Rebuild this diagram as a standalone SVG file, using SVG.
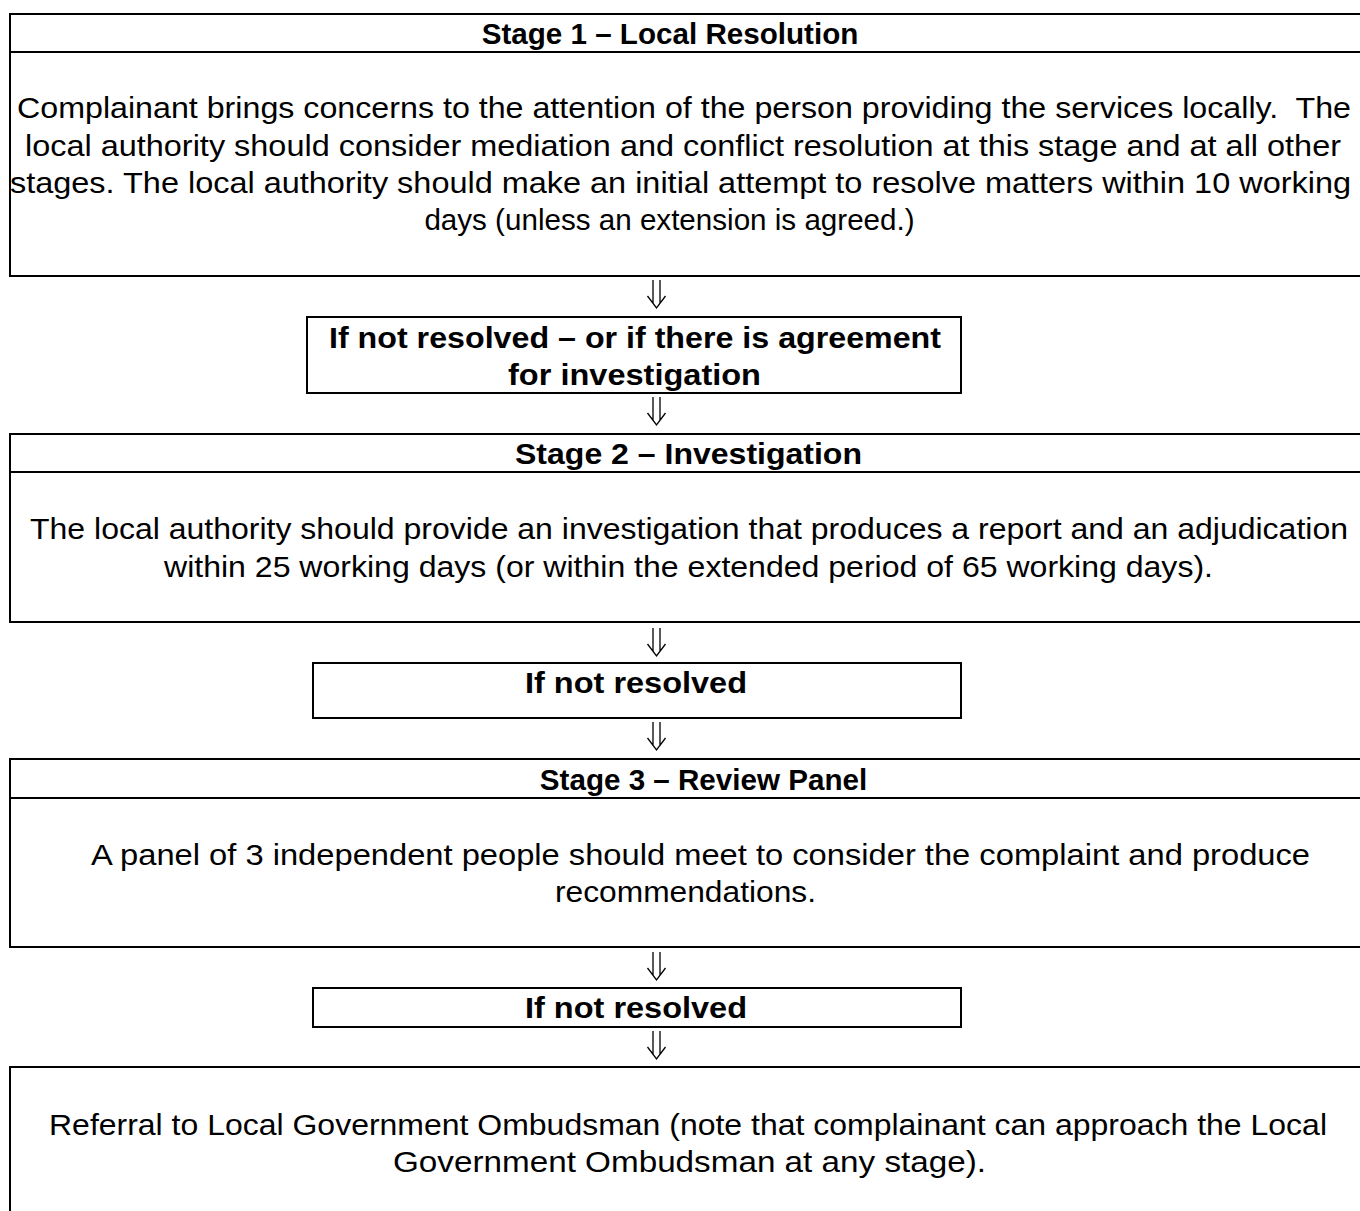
<svg xmlns="http://www.w3.org/2000/svg" width="1360" height="1211" viewBox="0 0 1360 1211">
<style>
.box{fill:#fff;stroke:#000;stroke-width:2}
.div{stroke:#000;stroke-width:2}
.t{font-family:"Liberation Sans",Arial,sans-serif;font-size:29.6px;fill:#000}
.m{text-anchor:middle}
.b{font-weight:bold}
.arr{fill:none;stroke:#000;stroke-width:1.3}
</style>
<defs>
<path id="dblarrow" class="arr" d="M-3.5,0 V23 M3.5,0 V23 M-9,16 L0,28 L9,16"/>
</defs>
<rect width="1360" height="1211" fill="#fff"/>
<g id="stage1">
<rect class="box" x="10" y="14" width="1362" height="262"/>
<line class="div" x1="10" y1="52" x2="1372" y2="52"/>
<text class="t b m" x="670" y="44">Stage 1 – Local Resolution</text>
<text class="t" x="17" y="118" textLength="1334" lengthAdjust="spacingAndGlyphs" style="white-space:pre">Complainant brings concerns to the attention of the person providing the services locally.  The</text>
<text class="t" x="25" y="156" textLength="1316" lengthAdjust="spacingAndGlyphs">local authority should consider mediation and conflict resolution at this stage and at all other</text>
<text class="t" x="10" y="193" textLength="1341" lengthAdjust="spacingAndGlyphs">stages. The local authority should make an initial attempt to resolve matters within 10 working</text>
<text class="t m" x="669.5" y="230">days (unless an extension is agreed.)</text>
</g>
<g id="decision1">
<rect class="box" x="307" y="317" width="654" height="76"/>
<text class="t b" x="329" y="348" textLength="612" lengthAdjust="spacingAndGlyphs">If not resolved – or if there is agreement</text>
<text class="t b" x="508" y="385" textLength="253" lengthAdjust="spacingAndGlyphs">for investigation</text>
</g>
<g id="stage2">
<rect class="box" x="10" y="434" width="1362" height="188"/>
<line class="div" x1="10" y1="472" x2="1372" y2="472"/>
<text class="t b" x="515" y="464" textLength="347" lengthAdjust="spacingAndGlyphs">Stage 2 – Investigation</text>
<text class="t" x="30" y="539" textLength="1318" lengthAdjust="spacingAndGlyphs">The local authority should provide an investigation that produces a report and an adjudication</text>
<text class="t" x="164" y="577" textLength="1049" lengthAdjust="spacingAndGlyphs">within 25 working days (or within the extended period of 65 working days).</text>
</g>
<g id="decision2">
<rect class="box" x="313" y="663" width="648" height="55"/>
<text class="t b" x="525" y="693" textLength="222" lengthAdjust="spacingAndGlyphs">If not resolved</text>
</g>
<g id="stage3">
<rect class="box" x="10" y="759" width="1362" height="188"/>
<line class="div" x1="10" y1="798" x2="1372" y2="798"/>
<text class="t b m" x="703.5" y="790">Stage 3 – Review Panel</text>
<text class="t" x="91" y="865" textLength="1219" lengthAdjust="spacingAndGlyphs">A panel of 3 independent people should meet to consider the complaint and produce</text>
<text class="t" x="555" y="902" textLength="261" lengthAdjust="spacingAndGlyphs">recommendations.</text>
</g>
<g id="decision3">
<rect class="box" x="313" y="988" width="648" height="39"/>
<text class="t b" x="525" y="1018" textLength="222" lengthAdjust="spacingAndGlyphs">If not resolved</text>
</g>
<g id="stage4">
<rect class="box" x="10" y="1067" width="1362" height="200"/>
<text class="t" x="49" y="1135" textLength="1278" lengthAdjust="spacingAndGlyphs">Referral to Local Government Ombudsman (note that complainant can approach the Local</text>
<text class="t" x="393" y="1172" textLength="593" lengthAdjust="spacingAndGlyphs">Government Ombudsman at any stage).</text>
</g>
<g id="connectors">
<use href="#dblarrow" x="656.5" y="280"/>
<use href="#dblarrow" x="656.5" y="397"/>
<use href="#dblarrow" x="656.5" y="628"/>
<use href="#dblarrow" x="656.5" y="722"/>
<use href="#dblarrow" x="656.5" y="952"/>
<use href="#dblarrow" x="656.5" y="1031"/>
</g>
</svg>
